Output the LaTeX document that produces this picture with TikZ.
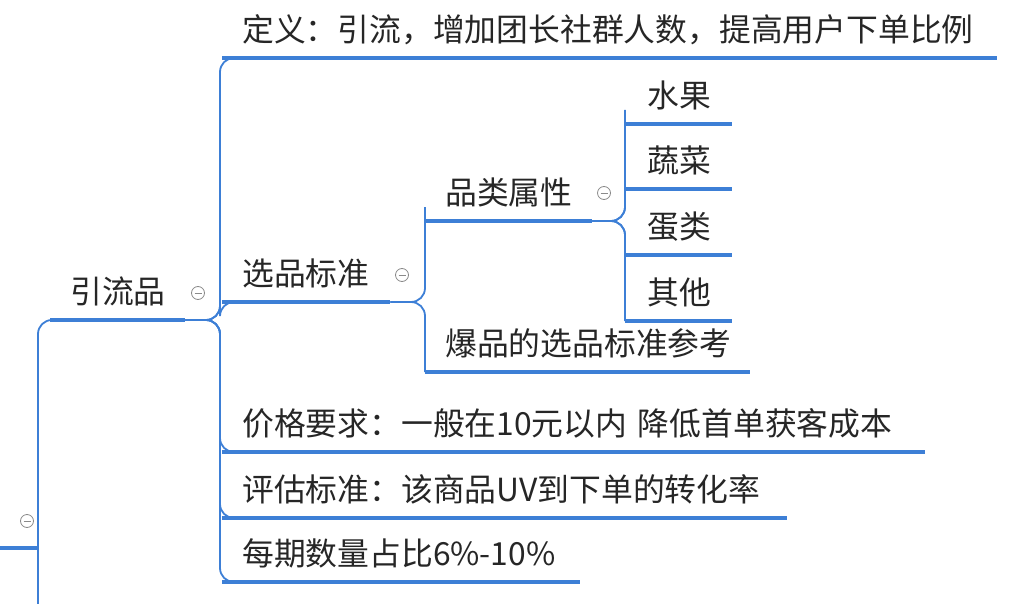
\documentclass[tikz,border=0pt]{standalone}
\usepackage{fontspec}
\setmainfont{Noto Sans CJK SC}
\definecolor{mblue}{HTML}{3D7FD6}
\definecolor{mgrey}{HTML}{8A8A8A}
\begin{document}
\begin{tikzpicture}[x=1pt,y=-1pt,
  topic/.style={anchor=south west, align=left, inner xsep=0pt, inner ysep=12pt, text width=#1,
     text height=28pt, text depth=4pt, font=\fontsize{31.8}{34}\selectfont, text=black!85},
  uline/.style={draw=mblue, line width=3.6pt},
  conn/.style={draw=mblue, line width=1.8pt, rounded corners=14pt},
  fold/.style={circle, draw=mgrey, line width=0.8pt, minimum size=13pt, inner sep=0pt, fill=white,
     path picture={\draw[mgrey,line width=0.9pt] ([xshift=-3.5pt]path picture bounding box.center) -- ([xshift=3.5pt]path picture bounding box.center);}}]
\useasboundingbox (0,0) rectangle (1014,604);
% root trunk
\coordinate (rootL) at (0,548);
\coordinate (rootT) at (38,548);
\draw[uline] (rootL) -- (rootT);
\node[fold] (f0) at (27,521) {};
% level1
\node[topic=135pt] (yl) at (50,320) {\hspace*{20pt}引流品};
\draw[uline] (yl.south west) -- (yl.south east);
\draw[conn] (rootT) -- (38,604);
\draw[conn] (rootT) -- (38,320) -- (yl.south west);
\node[fold] (f1) at (198,293) {};
% level2
\node[topic=775pt] (def) at (222,58) {\hspace*{20pt}定义：引流，增加团长社群人数，提高用户下单比例};
\node[topic=168pt] (xp) at (222,302) {\hspace*{20pt}选品标准};
\node[topic=703pt] (jg) at (222,452) {\hspace*{20pt}价格要求：一般在10元以内\ 降低首单获客成本};
\node[topic=565pt] (pg) at (222,518) {\hspace*{20pt}评估标准：该商品UV到下单的转化率};
\node[topic=358pt] (mq) at (222,582) {\hspace*{20pt}每期数量占比6\%-10\%};
\foreach \n in {def,xp,jg,pg,mq} \draw[uline] (\n.south west) -- (\n.south east);
\foreach \n in {def,xp,jg,pg,mq} \draw[conn] (yl.south east) -- (220,320) -- (220,{0}|-\n.south west) -- (\n.south west);
\node[fold] (f2) at (402,275) {};
% level3
\node[topic=167pt] (pl) at (425,221) {\hspace*{20pt}品类属性};
\node[topic=325pt] (bp) at (425,372) {\hspace*{20pt}爆品的选品标准参考};
\foreach \n in {pl,bp} \draw[uline] (\n.south west) -- (\n.south east);
\foreach \n in {pl,bp} \draw[conn] (xp.south east) -- (425,302) -- (425,{0}|-\n.south west) -- (\n.south west);
\node[fold] (f3) at (604,193) {};
% level4
\node[topic=107pt] (sg) at (625,124) {\hspace*{22pt}水果};
\node[topic=107pt] (sc) at (625,189) {\hspace*{22pt}蔬菜};
\node[topic=107pt] (dl) at (625,255) {\hspace*{22pt}蛋类};
\node[topic=107pt] (qt) at (625,321) {\hspace*{22pt}其他};
\foreach \n in {sg,sc,dl,qt} \draw[uline] (\n.south west) -- (\n.south east);
\foreach \n in {sg,sc,dl,qt} \draw[conn] (pl.south east) -- (625,221) -- (625,{0}|-\n.south west) -- (\n.south west);
\end{tikzpicture}
\end{document}
